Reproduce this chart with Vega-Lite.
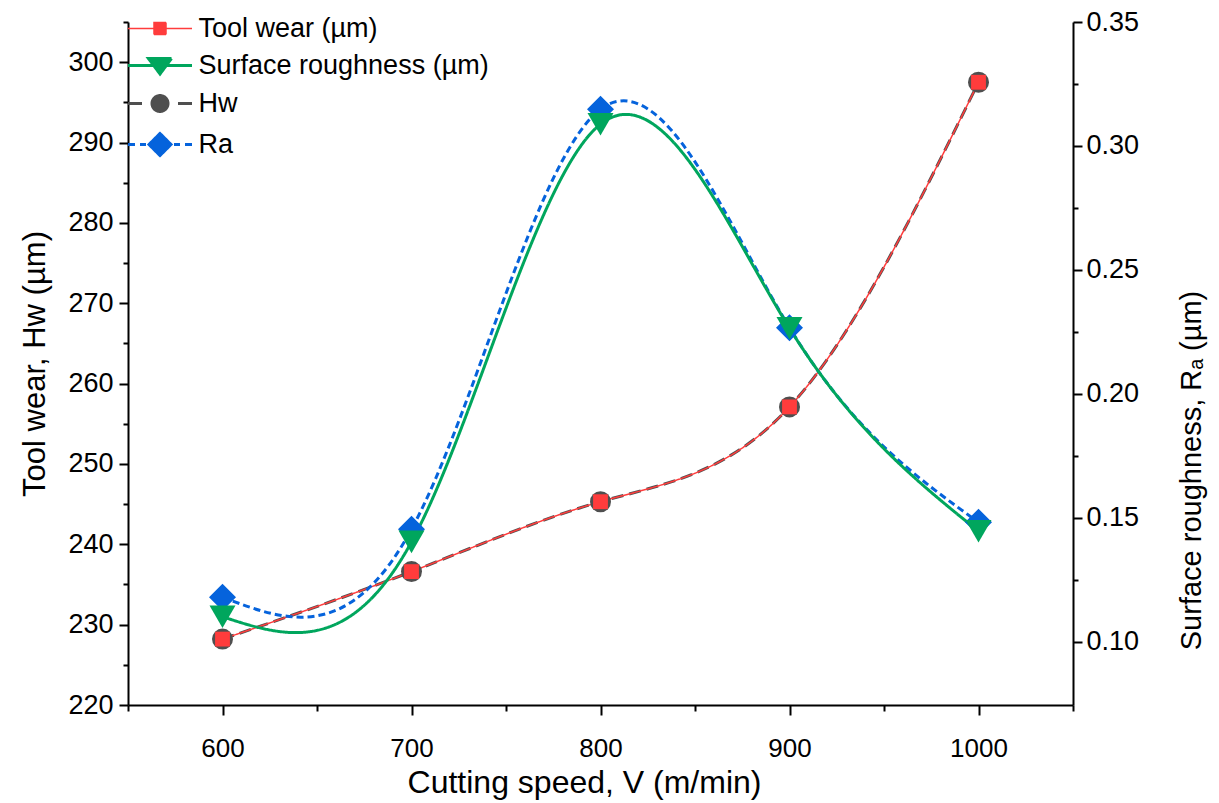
{
  "$schema": "https://vega.github.io/schema/vega-lite/v6.json",
  "width": 945,
  "height": 683,
  "autosize": {"type": "none"},
  "padding": {"left": 128, "top": 22, "right": 146, "bottom": 98},
  "background": "white",
  "config": {
    "view": {"stroke": null},
    "font": "Liberation Sans",
    "axis": {
      "grid": false,
      "domainColor": "black",
      "domainWidth": 2,
      "tickColor": "black",
      "tickWidth": 2,
      "labelColor": "black",
      "titleColor": "black",
      "labelFont": "Liberation Sans",
      "titleFont": "Liberation Sans",
      "titleFontWeight": "normal",
      "labelFontSize": 27,
      "labelFlush": false,
      "labelOverlap": false
    }
  },
  "datasets": {
    "wear": [
      {"v": 600, "series": "Hw", "val": 228.2},
      {"v": 700, "series": "Hw", "val": 236.6},
      {"v": 800, "series": "Hw", "val": 245.3},
      {"v": 900, "series": "Hw", "val": 257.1},
      {"v": 1000, "series": "Hw", "val": 297.5},
      {"v": 600, "series": "Tool wear (µm)", "val": 228.2},
      {"v": 700, "series": "Tool wear (µm)", "val": 236.6},
      {"v": 800, "series": "Tool wear (µm)", "val": 245.3},
      {"v": 900, "series": "Tool wear (µm)", "val": 257.1},
      {"v": 1000, "series": "Tool wear (µm)", "val": 297.5}
    ],
    "rough": [
      {"v": 600, "series": "Ra", "val": 0.118},
      {"v": 700, "series": "Ra", "val": 0.1454},
      {"v": 800, "series": "Ra", "val": 0.3148},
      {"v": 900, "series": "Ra", "val": 0.2267},
      {"v": 1000, "series": "Ra", "val": 0.1482},
      {"v": 600, "series": "Surface roughness (µm)", "val": 0.1101},
      {"v": 700, "series": "Surface roughness (µm)", "val": 0.1403},
      {"v": 800, "series": "Surface roughness (µm)", "val": 0.3088},
      {"v": 900, "series": "Surface roughness (µm)", "val": 0.2265},
      {"v": 1000, "series": "Surface roughness (µm)", "val": 0.1446}
    ]
  },
  "encoding": {
    "x": {
      "field": "v",
      "type": "quantitative",
      "scale": {"domain": [550, 1050], "nice": false, "zero": false},
      "axis": {
        "title": "Cutting speed, V (m/min)",
        "titleFontSize": 32,
        "titleX": 456,
        "titleY": 77,
        "titleAlign": "center",
        "titleBaseline": "middle",
        "values": [550, 600, 650, 700, 750, 800, 850, 900, 950, 1000, 1050],
        "format": "d",
        "labelFontSize": 26,
        "labelExpr": "datum.value % 100 === 0 ? datum.label : ''",
        "tickSize": {"condition": {"test": "datum.value % 100 === 0", "value": 10}, "value": 6},
        "labelPadding": 20
      }
    },
    "color": {
      "field": "series",
      "type": "nominal",
      "scale": {
        "domain": ["Tool wear (µm)", "Surface roughness (µm)", "Hw", "Ra"],
        "range": ["#ff3c3c", "#00a65d", "#4f4f4f", "#0563dc"]
      },
      "legend": {
        "title": null,
        "orient": "none",
        "legendX": 0,
        "legendY": -7,
        "padding": 0,
        "rowPadding": 9,
        "symbolSize": 400,
        "symbolOffset": 18.5,
        "labelOffset": 25,
        "labelFontSize": 27,
        "labelFont": "Liberation Sans",
        "labelColor": "black",
        "labelLimit": 0,
        "encode": {
          "symbols": {
            "update": {
              "shape": {"signal": "datum.value === 'Tool wear (µm)' ? 'M-3.2,0H3.2M-0.6,-0.6H0.6V0.6H-0.6Z' : datum.value === 'Surface roughness (µm)' ? 'M-3.2,0H3.2M-1.15,-0.7H1.15L0,0.85Z' : datum.value === 'Hw' ? 'M-3.2,0H-1.8M1.8,0H3.2M0.8,0A0.8,0.8,0,1,1,-0.8,0A0.8,0.8,0,1,1,0.8,0Z' : 'M-3.2,0H-2.5M-2.0,0H-1.4M1.4,0H2.0M2.5,0H3.2M0,-1.1L1.1,0L0,1.1L-1.1,0Z'"},
              "fill": {"signal": "scale('color', datum.value)"},
              "stroke": {"signal": "scale('color', datum.value)"},
              "strokeWidth": {"signal": "datum.value === 'Tool wear (µm)' ? 1.5 : 3"},
              "strokeDash": {"value": [1, 0]},
              "size": {"value": 400},
              "opacity": {"value": 1},
              "fillOpacity": {"value": 1},
              "strokeOpacity": {"value": 1}
            }
          }
        }
      }
    }
  },
  "layer": [
    {
      "data": {"name": "wear"},
      "encoding": {
        "y": {
          "field": "val",
          "type": "quantitative",
          "scale": {"domain": [220, 305], "nice": false, "zero": false},
          "axis": {
            "orient": "left",
            "title": "Tool wear, Hw (µm)",
            "titleFontSize": 31,
            "titlePadding": 16,
            "values": [220, 225, 230, 235, 240, 245, 250, 255, 260, 265, 270, 275, 280, 285, 290, 295, 300, 305],
            "format": "d",
            "labelExpr": "datum.value % 10 === 0 ? datum.label : ''",
            "tickSize": {"condition": {"test": "datum.value % 10 === 0", "value": 9}, "value": 5},
            "labelPadding": 6
          }
        }
      },
      "layer": [
        {
          "mark": {"type": "line", "interpolate": "natural"},
          "encoding": {
            "strokeWidth": {"condition": {"test": "datum.series === 'Tool wear (µm)'", "value": 1.5}, "value": 3},
            "strokeDash": {"condition": {"test": "datum.series === 'Hw'", "value": [12, 6]}, "value": [1, 0]}
          }
        },
        {
          "mark": {"type": "point", "filled": true, "opacity": 1},
          "encoding": {
            "shape": {"condition": {"test": "datum.series === 'Tool wear (µm)'", "value": "square"}, "value": "circle"},
            "size": {"condition": {"test": "datum.series === 'Tool wear (µm)'", "value": 220}, "value": 441}
          }
        }
      ]
    },
    {
      "data": {"name": "rough"},
      "encoding": {
        "y": {
          "field": "val",
          "type": "quantitative",
          "scale": {"domain": [0.0745, 0.35], "nice": false, "zero": false},
          "axis": {
            "orient": "right",
            "title": "Surface roughness, Rₐ (µm)",
            "titleFontSize": 29,
            "titleAngle": 270,
            "titleAlign": "center",
            "titleBaseline": "middle",
            "titleX": 118,
            "titleY": 448,
            "values": [0.1, 0.125, 0.15, 0.175, 0.2, 0.225, 0.25, 0.275, 0.3, 0.325, 0.35],
            "format": ".2f",
            "labelExpr": "abs(datum.value * 20 - round(datum.value * 20)) < 0.000001 ? datum.label : ''",
            "tickSize": {"condition": {"test": "abs(datum.value * 20 - round(datum.value * 20)) < 0.000001", "value": 9}, "value": 5},
            "labelPadding": 4
          }
        }
      },
      "layer": [
        {
          "mark": {"type": "line", "interpolate": "natural"},
          "encoding": {
            "strokeWidth": {"value": 3},
            "strokeDash": {"condition": {"test": "datum.series === 'Ra'", "value": [7, 4]}, "value": [1, 0]}
          }
        },
        {
          "mark": {"type": "point", "filled": true, "opacity": 1},
          "encoding": {
            "shape": {"condition": {"test": "datum.series === 'Ra'", "value": "diamond"}, "value": "triangle-down"},
            "size": {"condition": {"test": "datum.series === 'Ra'", "value": 729}, "value": 676}
          }
        }
      ]
    }
  ],
  "resolve": {"scale": {"y": "independent"}}
}
